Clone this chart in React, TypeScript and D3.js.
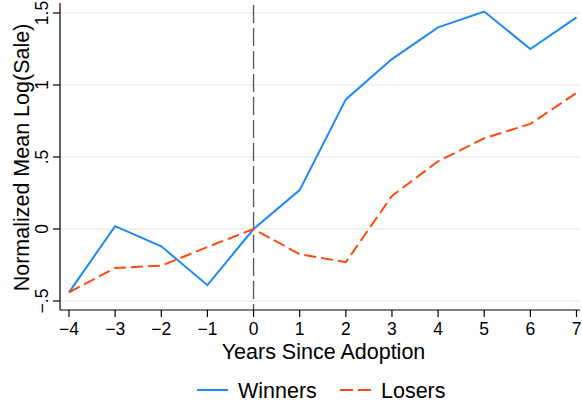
import React from 'react';
import * as d3 from 'd3';

// years relative to adoption
const years = [-4, -3, -2, -1, 0, 1, 2, 3, 4, 5, 6, 7];
const winners = [-0.44, 0.02, -0.12, -0.39, 0, 0.27, 0.9, 1.18, 1.4, 1.51, 1.25, 1.47];
const losers = [-0.44, -0.27, -0.255, -0.125, 0, -0.175, -0.23, 0.23, 0.47, 0.63, 0.73, 0.945];
const yTicks = [-0.5, 0, 0.5, 1, 1.5];
const yTickLabels = ['\u2212.5', '0', '.5', '1', '1.5'];

const W = 582;
const H = 407;
const FONT = '"Liberation Sans", Arial, Helvetica, sans-serif';
const BLUE = '#1e88f5';
const ORANGE = '#ff4a0d';

export default function App() {
  const left = 60;
  const right = 580;
  const bottom = 310;

  const x = d3.scaleLinear().domain([-4, 7]).range([69, 576.5]);
  const y = d3.scaleLinear().domain([-0.5, 1.5]).range([301, 13]);

  const line = d3
    .line<number>()
    .x((_, i) => x(years[i]))
    .y((d) => y(d));

  return (
    <div style={{ position: 'absolute', left: 0, top: 0 }}>
      <svg width={W} height={H} style={{ display: 'block', background: '#fff' }}>
        {/* grid */}
        {yTicks.map((t) => (
          <line key={'g' + t} x1={left} x2={right} y1={y(t)} y2={y(t)} stroke="#eeeeee" strokeWidth={1.5} />
        ))}

        {/* reference line at adoption */}
        <line
          x1={x(0)}
          x2={x(0)}
          y1={5}
          y2={bottom}
          stroke="#555"
          strokeWidth={1.3}
          strokeDasharray="18 5"
        />

        {/* series */}
        <path d={line(winners) || ''} fill="none" stroke={BLUE} strokeWidth={2} strokeLinejoin="miter" />
        <path d={line(losers) || ''} fill="none" stroke={ORANGE} strokeWidth={2} strokeDasharray="12 5" />

        {/* y axis */}
        <line x1={left} x2={left} y1={3} y2={bottom} stroke="#000" strokeWidth={1.2} />
        {yTicks.map((t, i) => (
          <g key={'y' + t}>
            <line x1={left - 7} x2={left} y1={y(t)} y2={y(t)} stroke="#000" strokeWidth={1.2} />
            <text
              transform={`translate(${left - 12},${y(t)}) rotate(-90)`}
              textAnchor="middle"
              fontFamily={FONT}
              fontSize={17.5}
              fill="#000"
            >
              {yTickLabels[i]}
            </text>
          </g>
        ))}
        <text
          transform={`translate(29,${(3 + bottom) / 2 + 1}) rotate(-90)`}
          textAnchor="middle"
          fontFamily={FONT}
          fontSize={21.5}
          fill="#000"
        >
          Normalized Mean Log(Sale)
        </text>

        {/* x axis */}
        <line x1={left} x2={right} y1={bottom} y2={bottom} stroke="#000" strokeWidth={1.2} />
        {years.map((t) => (
          <g key={'x' + t}>
            <line x1={x(t)} x2={x(t)} y1={bottom} y2={bottom + 7} stroke="#000" strokeWidth={1.2} />
            <text x={x(t)} y={bottom + 25} textAnchor="middle" fontFamily={FONT} fontSize={17.5} fill="#000">
              {t < 0 ? '\u2212' + Math.abs(t) : String(t)}
            </text>
          </g>
        ))}
        <text x={323.5} y={359} textAnchor="middle" fontFamily={FONT} fontSize={21.5} fill="#000">
          Years Since Adoption
        </text>

        {/* legend */}
        <line x1={197} x2={228} y1={390} y2={390} stroke={BLUE} strokeWidth={2} />
        <text x={238} y={398} fontFamily={FONT} fontSize={21.5} fill="#000">
          Winners
        </text>
        <line x1={340} x2={372} y1={390} y2={390} stroke={ORANGE} strokeWidth={2} strokeDasharray="13 5" />
        <text x={381} y={398} fontFamily={FONT} fontSize={21.5} fill="#000">
          Losers
        </text>
      </svg>
    </div>
  );
}
